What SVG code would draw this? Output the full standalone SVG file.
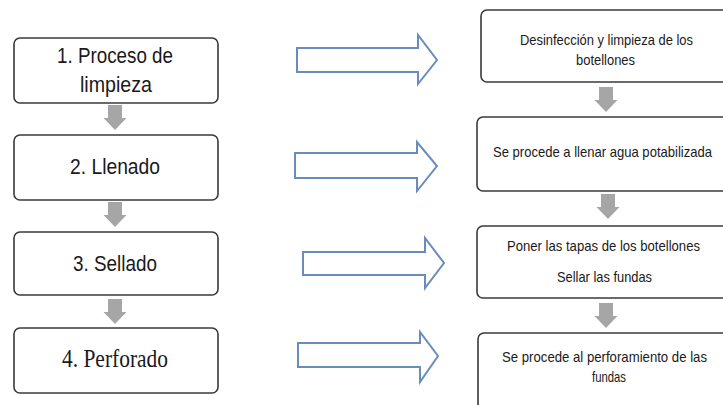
<svg xmlns="http://www.w3.org/2000/svg" width="723" height="405" viewBox="0 0 723 405">
<style>
.box{fill:#fff;stroke:#3a3a3a;stroke-width:1.6}
.lt{font-family:"Liberation Sans",Arial,sans-serif;font-size:22px;fill:#1a1a1a}
.st{font-family:"Liberation Serif","Times New Roman",serif;font-size:25px;fill:#1a1a1a}
.rt{font-family:"Liberation Sans",Arial,sans-serif;font-size:14.5px;fill:#1a1a1a}
.ba{fill:#fff;stroke:#6a8cbd;stroke-width:2;stroke-linejoin:miter}
.ga{fill:#a6a6a6}
</style>
<defs>
<path id="dn" d="M-7,0 H7 V13 H11.5 L0,25 L-11.5,13 H-7 Z"/>
</defs>
<rect width="723" height="405" fill="#fff"/>
<g id="n1">
<rect class="box" x="14" y="38" width="204" height="65" rx="6"/>
<text class="lt" x="57" y="63" textLength="116" lengthAdjust="spacingAndGlyphs">1. Proceso de</text>
<text class="lt" x="80" y="92" textLength="72" lengthAdjust="spacingAndGlyphs">limpieza</text>
</g>
<g id="n2">
<rect class="box" x="14" y="135" width="204" height="65" rx="6"/>
<text class="lt" x="70" y="174" textLength="90" lengthAdjust="spacingAndGlyphs">2. Llenado</text>
</g>
<g id="n3">
<rect class="box" x="14" y="232" width="204" height="63" rx="6"/>
<text class="lt" x="73" y="271" textLength="84" lengthAdjust="spacingAndGlyphs">3. Sellado</text>
</g>
<g id="n4">
<rect class="box" x="14" y="328" width="204" height="65" rx="6"/>
<text class="st" x="62" y="367" textLength="106" lengthAdjust="spacingAndGlyphs">4. Perforado</text>
</g>
<g id="r1">
<rect class="box" x="481" y="10" width="260" height="72" rx="6"/>
<text class="rt" x="520" y="45" textLength="173" lengthAdjust="spacingAndGlyphs">Desinfección y limpieza de los</text>
<text class="rt" x="576" y="65" textLength="59" lengthAdjust="spacingAndGlyphs">botellones</text>
</g>
<g id="r2">
<rect class="box" x="477" y="117" width="264" height="74" rx="6"/>
<text class="rt" x="493" y="157" textLength="219" lengthAdjust="spacingAndGlyphs">Se procede a llenar agua potabilizada</text>
</g>
<g id="r3">
<rect class="box" x="477" y="226" width="264" height="72" rx="6"/>
<text class="rt" x="507" y="251" textLength="193" lengthAdjust="spacingAndGlyphs">Poner las tapas de los botellones</text>
<text class="rt" x="557" y="282" textLength="95" lengthAdjust="spacingAndGlyphs">Sellar las fundas</text>
</g>
<g id="r4">
<rect class="box" x="478" y="333" width="264" height="80" rx="6"/>
<text class="rt" x="502" y="362" textLength="205" lengthAdjust="spacingAndGlyphs">Se procede al perforamiento de las</text>
<text class="rt" x="592" y="382" textLength="34" lengthAdjust="spacingAndGlyphs">fundas</text>
</g>
<g id="connectors">
<use href="#dn" class="ga" transform="translate(115,105)"/>
<use href="#dn" class="ga" transform="translate(115,202)"/>
<use href="#dn" class="ga" transform="translate(115,299)"/>
<use href="#dn" class="ga" transform="translate(606,87)"/>
<use href="#dn" class="ga" transform="translate(608,194)"/>
<use href="#dn" class="ga" transform="translate(606,303)"/>
<path class="ba" d="M297,48 H418 V35 L437,60 L418,84 V72 H297 Z"/>
<path class="ba" d="M295,153 H417 V142 L437,166 L417,191 V178 H295 Z"/>
<path class="ba" d="M303,252 H425 V238 L444,263 L425,288 V275 H303 Z"/>
<path class="ba" d="M298,343 H420 V332 L438,356 L420,382 V367 H298 Z"/>
</g>
</svg>
